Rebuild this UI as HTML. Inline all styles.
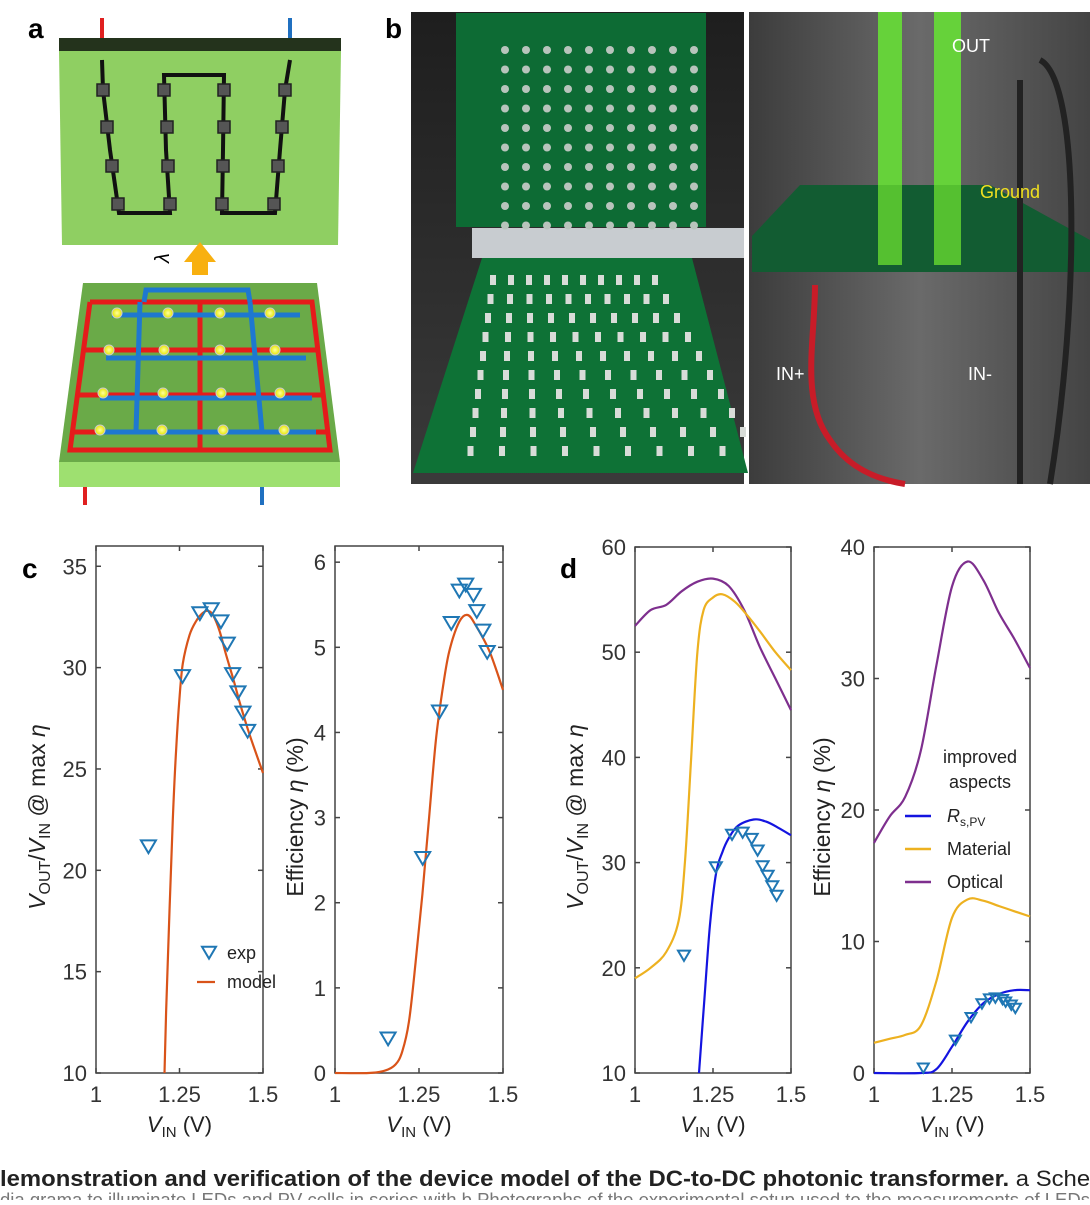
<!DOCTYPE html>
<html><head><meta charset="utf-8"><style>
html,body{margin:0;padding:0;background:#fff;overflow:hidden;}
svg text{font-family:"Liberation Sans",sans-serif;}
</style></head><body>
<svg id="fig" width="1090" height="1200" viewBox="0 0 1090 1200" xmlns="http://www.w3.org/2000/svg">
<defs>
<linearGradient id="bgL" x1="0" y1="0" x2="0" y2="1"><stop offset="0" stop-color="#1e1e1e"/><stop offset="1" stop-color="#3a3a3a"/></linearGradient>
<linearGradient id="bgR" x1="0" y1="0" x2="1" y2="0"><stop offset="0" stop-color="#3c3c3c"/><stop offset="0.5" stop-color="#6a6a6a"/><stop offset="1" stop-color="#444"/></linearGradient>
<radialGradient id="led"><stop offset="0" stop-color="#ffffa0"/><stop offset="1" stop-color="#e6e600"/></radialGradient>
</defs>

<g>
<text x="28" y="38" font-size="28" font-weight="bold">a</text>
<line x1="102" y1="18" x2="102" y2="40" stroke="#e02020" stroke-width="4"/>
<line x1="290" y1="18" x2="290" y2="40" stroke="#2070c0" stroke-width="4"/>
<rect x="59" y="38" width="282" height="13" fill="#24331c"/>
<polygon points="59,51 341,51 338,245 62,245" fill="#8fcf62"/>
<g fill="none" stroke="#111" stroke-width="4">
<polyline points="102,60 103,90 110,150 119,213 170,213 166,150 164,75 224,75 223,150 222,213 275,213 280,150 285,90 290,60"/>
</g>
<g fill="#555" stroke="#222" stroke-width="1.5">
<rect x="97" y="84" width="12" height="12"/><rect x="158" y="84" width="12" height="12"/><rect x="218" y="84" width="12" height="12"/><rect x="279" y="84" width="12" height="12"/>
<rect x="101" y="121" width="12" height="12"/><rect x="161" y="121" width="12" height="12"/><rect x="218" y="121" width="12" height="12"/><rect x="276" y="121" width="12" height="12"/>
<rect x="106" y="160" width="12" height="12"/><rect x="162" y="160" width="12" height="12"/><rect x="217" y="160" width="12" height="12"/><rect x="272" y="160" width="12" height="12"/>
<rect x="112" y="198" width="12" height="12"/><rect x="164" y="198" width="12" height="12"/><rect x="216" y="198" width="12" height="12"/><rect x="268" y="198" width="12" height="12"/>
</g>
<polygon points="192,275 208,275 208,262 216,262 200,242 184,262 192,262" fill="#f8b010"/>
<text x="160" y="262" font-size="20" font-style="italic" transform="rotate(-90 165 258)">λ</text>
<polygon points="83,283 317,283 340,462 59,462" fill="#6aaa48"/>
<rect x="59" y="462" width="281" height="25" fill="#9ee070"/>
<g fill="none" stroke="#e51b1b" stroke-width="5">
<polyline points="90,302 312,302 330,450 70,450 90,302"/>
<line x1="200" y1="302" x2="200" y2="450"/>
<line x1="84" y1="350" x2="318" y2="350"/><line x1="78" y1="395" x2="324" y2="395"/><line x1="74" y1="432" x2="328" y2="432"/>
</g>
<g fill="none" stroke="#1e78d0" stroke-width="5">
<polyline points="144,302 146,290 248,290 250,302"/>
<line x1="140" y1="302" x2="136" y2="432"/><line x1="250" y1="302" x2="262" y2="432"/>
<line x1="112" y1="315" x2="300" y2="315"/><line x1="106" y1="358" x2="306" y2="358"/><line x1="100" y1="398" x2="312" y2="398"/><line x1="96" y1="432" x2="316" y2="432"/>
</g>
<g fill="url(#led)" stroke="#ccc" stroke-width="1">
<circle cx="117" cy="313" r="5"/><circle cx="168" cy="313" r="5"/><circle cx="220" cy="313" r="5"/><circle cx="270" cy="313" r="5"/>
<circle cx="109" cy="350" r="5"/><circle cx="164" cy="350" r="5"/><circle cx="220" cy="350" r="5"/><circle cx="275" cy="350" r="5"/>
<circle cx="103" cy="393" r="5"/><circle cx="163" cy="393" r="5"/><circle cx="221" cy="393" r="5"/><circle cx="280" cy="393" r="5"/>
<circle cx="100" cy="430" r="5"/><circle cx="162" cy="430" r="5"/><circle cx="223" cy="430" r="5"/><circle cx="284" cy="430" r="5"/>
</g>
<line x1="85" y1="487" x2="85" y2="505" stroke="#e02020" stroke-width="4"/>
<line x1="262" y1="487" x2="262" y2="505" stroke="#2070c0" stroke-width="4"/>
</g>

<g>
<text x="385" y="38" font-size="28" font-weight="bold">b</text>
<rect x="411" y="12" width="333" height="472" fill="url(#bgL)"/>
<rect x="456" y="13" width="250" height="214" fill="#0d6b34"/>
<rect x="472" y="228" width="272" height="30" fill="#c8ccd0"/>
<polygon points="482,258 692,258 748,473 413,473" fill="#0e7236"/>
<g id="dotsTop" fill="#b8c4bc"></g>
<g id="dotsBot" fill="#d8dcd8"></g>
<rect x="749" y="12" width="341" height="472" fill="url(#bgR)"/>
<rect x="878" y="12" width="24" height="250" fill="#66d23a"/>
<rect x="934" y="12" width="27" height="250" fill="#66d23a"/>
<polygon points="752,236 800,185 990,185 1090,240 1090,272 752,272" fill="#125c32"/>
<rect x="878" y="185" width="24" height="80" fill="#55c030"/><rect x="934" y="185" width="27" height="80" fill="#55c030"/>
<path d="M815,285 C815,340 800,400 830,440 C850,470 880,480 905,484" stroke="#c81c28" stroke-width="6" fill="none"/>
<path d="M1020,80 L1020,484 M1040,60 C1080,80 1080,300 1050,484" stroke="#222" stroke-width="6" fill="none"/>
<text x="952" y="52" font-size="18" fill="#fff">OUT</text>
<text x="980" y="198" font-size="18" fill="#f0e020">Ground</text>
<text x="776" y="380" font-size="18" fill="#fff">IN+</text>
<text x="968" y="380" font-size="18" fill="#fff">IN-</text>
</g>

<text x="22" y="578" font-size="28" font-weight="bold">c</text>
<text x="560" y="578" font-size="28" font-weight="bold">d</text>
<g id="charts"></g>

<text x="0" y="1186" font-size="22" font-weight="bold" fill="#222" textLength="1110" lengthAdjust="spacingAndGlyphs">lemonstration and verification of the device model of the DC-to-DC photonic transformer. <tspan font-weight="normal">a Schem</tspan></text>
<text x="0" y="1206" font-size="18" fill="#777" textLength="1090" lengthAdjust="spacingAndGlyphs">dia grama to illuminate LEDs and PV cells in series with b Photographs of the experimental setup used to the measurements of LEDs</text>
</svg>
<script>
const cExpX = [1.157,1.259,1.311,1.345,1.374,1.393,1.409,1.425,1.44,1.454];
const cExpRatio = [21.2,29.6,32.7,32.9,32.3,31.2,29.7,28.8,27.8,26.9];
const cExpEffX = [1.158,1.261,1.311,1.346,1.370,1.389,1.412,1.422,1.440,1.453];
const cExpEff = [0.41,2.53,4.25,5.29,5.67,5.74,5.62,5.43,5.2,4.95];
const modelRatioX = [1.205,1.21,1.22,1.23,1.24,1.25,1.26,1.28,1.30,1.32,1.335,1.35,1.37,1.39,1.41,1.43,1.45,1.47,1.5];
const modelRatioY = [10,13,18,22.5,26,28.5,30.2,31.6,32.3,32.7,32.8,32.6,31.8,30.6,29.5,28.3,27.2,26.2,24.8];
const modelEffX = [1.0,1.1,1.15,1.18,1.2,1.22,1.24,1.26,1.28,1.3,1.32,1.34,1.37,1.395,1.42,1.46,1.5];
const modelEffY = [0,0,0.03,0.1,0.25,0.6,1.3,2.1,3.0,3.9,4.5,4.95,5.3,5.38,5.25,4.95,4.5];
const dOptRatioX = [1,1.05,1.1,1.15,1.2,1.25,1.3,1.35,1.4,1.45,1.5];
const dOptRatioY = [52.5,54,54.5,55.8,56.7,57,56.3,54,50.5,47.5,44.5];
const dMatRatioX = [1,1.05,1.1,1.14,1.16,1.18,1.2,1.22,1.25,1.28,1.32,1.36,1.4,1.45,1.5];
const dMatRatioY = [19,20,21.5,24.5,30,40,50,54,55.2,55.5,54.8,53.5,52,50,48.3];
const dRsRatioX = [1.205,1.22,1.24,1.26,1.28,1.30,1.33,1.38,1.42,1.46,1.5];
const dRsRatioY = [10,16,24,29,31,32.3,33.5,34.1,33.9,33.3,32.6];
const dOptEffX = [1,1.05,1.1,1.15,1.2,1.25,1.3,1.35,1.4,1.45,1.5];
const dOptEffY = [17.5,19.5,21,24.5,31,37,38.9,37.5,35,33,30.8];
const dMatEffX = [1,1.05,1.1,1.15,1.2,1.25,1.3,1.35,1.4,1.45,1.5];
const dMatEffY = [2.3,2.6,2.9,3.6,7,11.8,13.2,13.1,12.7,12.3,11.9];
const dRsEffX = [1,1.15,1.2,1.25,1.3,1.35,1.4,1.45,1.5];
const dRsEffY = [0,0,0.3,2,3.9,5.3,6,6.3,6.3];
const xTicks = [1,1.25,1.5];
const xTickLabels = ["1","1.25","1.5"];
const c1Ticks = [10,15,20,25,30,35];
const c2Ticks = [0,1,2,3,4,5,6];
const d1Ticks = [10,20,30,40,50,60];
const d2Ticks = [0,10,20,30,40];
const legendNames = ["Rs,PV","Material","Optical"];

const NS = "http://www.w3.org/2000/svg";
const root = document.getElementById('charts');
function mk(tag, attrs, parent){
  const e = document.createElementNS(NS, tag);
  for (const k in attrs) e.setAttribute(k, attrs[k]);
  (parent||root).appendChild(e);
  return e;
}
function linFn(d0,d1,r0,r1){ return v => r0 + (v-d0)/(d1-d0)*(r1-r0); }

function axes(box, yMin, yMax, yTicks, name){
  const g = mk('g', {});
  
  
  const sx = linFn(1,1.5,box.l,box.r), sy = linFn(yMin,yMax,box.b,box.t);
  const fr = mk('rect', {x:box.l,y:box.t,width:box.r-box.l,height:box.b-box.t,fill:'none',stroke:'#444','stroke-width':1.5}, g);
  
  
  yTicks.forEach(v => {
    const y = sy(v);
    mk('line',{x1:box.l,y1:y,x2:box.l+5,y2:y,stroke:'#444','stroke-width':1.5},g);
    mk('line',{x1:box.r,y1:y,x2:box.r-5,y2:y,stroke:'#444','stroke-width':1.5},g);
    const t = mk('text',{x:box.l-9,y:y+8,'font-size':22,'text-anchor':'end',fill:'#333'},g);
    
    
    t.textContent = String(v);
  });
  xTicks.forEach((v,i) => {
    const x = sx(v);
    mk('line',{x1:x,y1:box.b,x2:x,y2:box.b-5,stroke:'#444','stroke-width':1.5},g);
    mk('line',{x1:x,y1:box.t,x2:x,y2:box.t+5,stroke:'#444','stroke-width':1.5},g);
    const t = mk('text',{x:x,y:box.b+29,'font-size':22,'text-anchor':'middle',fill:'#333'},g);
    
    
    t.textContent = xTickLabels[i];
  });
  const xt = mk('text',{x:(box.l+box.r)/2,y:1132,'font-size':22,'text-anchor':'middle',fill:'#222'},g);
  
  
  xt.innerHTML = '<tspan font-style="italic">V</tspan><tspan font-size="15" dy="5">IN</tspan><tspan dy="-5"> (V)</tspan>';
  return {sx, sy, g, box};
}
function line(ax, xs, ys, color, name){
  const P = xs.map((x,i)=>[ax.sx(x), ax.sy(ys[i])]);
  let d = 'M'+P[0][0].toFixed(1)+','+P[0][1].toFixed(1);
  for (let i=0;i<P.length-1;i++){
    const p0=P[Math.max(0,i-1)], p1=P[i], p2=P[i+1], p3=P[Math.min(P.length-1,i+2)];
    const c1x=p1[0]+(p2[0]-p0[0])/6, c1y=p1[1]+(p2[1]-p0[1])/6;
    const c2x=p2[0]-(p3[0]-p1[0])/6, c2y=p2[1]-(p3[1]-p1[1])/6;
    d += ` C${c1x.toFixed(1)},${c1y.toFixed(1)} ${c2x.toFixed(1)},${c2y.toFixed(1)} ${p2[0].toFixed(1)},${p2[1].toFixed(1)}`;
  }
  const p = mk('path',{d:d,fill:'none',stroke:color,'stroke-width':2.2,'stroke-linejoin':'round'},ax.g);
  
  
}
function tri(g, x, y, s){
  return mk('polygon',{points:`${x-s},${y-s*0.75} ${x+s},${y-s*0.75} ${x},${y+s*0.95}`,fill:'none',stroke:'#1f77b4','stroke-width':2},g);
}
function markers(ax, xs, ys, name, s){
  xs.forEach((x,i)=>{
    const p = tri(ax.g, ax.sx(x), ax.sy(ys[i]), s);
    
    
  });
}
function ytitle(x, y, html, name){
  const t = mk('text',{x:0,y:0,'font-size':23,'text-anchor':'middle',fill:'#222',transform:`translate(${x},${y}) rotate(-90)`});
  
  
  t.innerHTML = html;
}
const ratioTitle = '<tspan font-style="italic">V</tspan><tspan font-size="16" dy="5">OUT</tspan><tspan dy="-5">/</tspan><tspan font-style="italic">V</tspan><tspan font-size="16" dy="5">IN</tspan><tspan dy="-5"> @ max </tspan><tspan font-style="italic">η</tspan>';
const effTitle = 'Efficiency <tspan font-style="italic">η</tspan> (%)';

const a1 = axes({l:96,r:263,t:546,b:1073}, 10, 36, c1Ticks, 'chart-c-ratio');
line(a1, modelRatioX, modelRatioY, '#d95319', 'model-line');
markers(a1, cExpX, cExpRatio, 'exp-marker', 7.5);
ytitle(45, 817, ratioTitle, 'y-axis-title-ratio');
const lg1 = mk('g',{});


tri(lg1, 209, 952, 7);
mk('line',{x1:197,y1:982,x2:215,y2:982,stroke:'#d95319','stroke-width':2.2},lg1);
const le1 = mk('text',{x:227,y:959,'font-size':18,fill:'#222'},lg1); le1.textContent='exp';


const le2 = mk('text',{x:227,y:988,'font-size':18,fill:'#222'},lg1); le2.textContent='model';



const a2 = axes({l:335,r:503,t:546,b:1073}, 0, 6.19, c2Ticks, 'chart-c-efficiency');
line(a2, modelEffX, modelEffY, '#d95319', 'model-line');
markers(a2, cExpEffX, cExpEff, 'exp-marker', 7.5);
ytitle(303, 817, effTitle, 'y-axis-title-efficiency');

const a3 = axes({l:635,r:791,t:547,b:1073}, 10, 60, d1Ticks, 'chart-d-ratio');
line(a3, dOptRatioX, dOptRatioY, '#7e2f8e', 'optical-line');
line(a3, dMatRatioX, dMatRatioY, '#edb120', 'material-line');
line(a3, dRsRatioX, dRsRatioY, '#1414e0', 'rs-pv-line');
markers(a3, cExpX, cExpRatio, 'exp-marker', 6);
ytitle(583, 817, ratioTitle, 'y-axis-title-ratio-d');

const a4 = axes({l:874,r:1030,t:547,b:1073}, 0, 40, d2Ticks, 'chart-d-efficiency');
line(a4, dOptEffX, dOptEffY, '#7e2f8e', 'optical-line');
line(a4, dMatEffX, dMatEffY, '#edb120', 'material-line');
line(a4, dRsEffX, dRsEffY, '#1414e0', 'rs-pv-line');
markers(a4, cExpEffX, cExpEff, 'exp-marker', 5.5);
ytitle(830, 817, effTitle, 'y-axis-title-efficiency-d');
const lg2 = mk('g',{});


const lt1 = mk('text',{x:980,y:763,'font-size':18,'text-anchor':'middle',fill:'#222'},lg2); lt1.textContent='improved';
const lt2 = mk('text',{x:980,y:788,'font-size':18,'text-anchor':'middle',fill:'#222'},lg2); lt2.textContent='aspects';
const lgColors = ['#1414e0','#edb120','#7e2f8e'];
legendNames.forEach((n,i)=>{
  const y = 816 + i*33;
  mk('line',{x1:905,y1:y,x2:931,y2:y,stroke:lgColors[i],'stroke-width':2.5},lg2);
  const t = mk('text',{x:947,y:y+6,'font-size':18,fill:'#222'},lg2);
  
  
  if (i===0) t.innerHTML = '<tspan font-style="italic">R</tspan><tspan font-size="12" dy="4">s,PV</tspan>';
  else t.textContent = n;
});

const dt = document.getElementById('dotsTop');
for (let r=0;r<10;r++) for (let c=0;c<10;c++) mk('circle',{cx:505+c*21,cy:50+r*19.5,r:4},dt);
const db = document.getElementById('dotsBot');
for (let r=0;r<10;r++) for (let c=0;c<10;c++){
  const w = 13+r*1.5;
  mk('rect',{x:490-r*2.5+c*(w+5),y:275+r*19,width:6,height:10},db);
}
</script>
</body></html>
